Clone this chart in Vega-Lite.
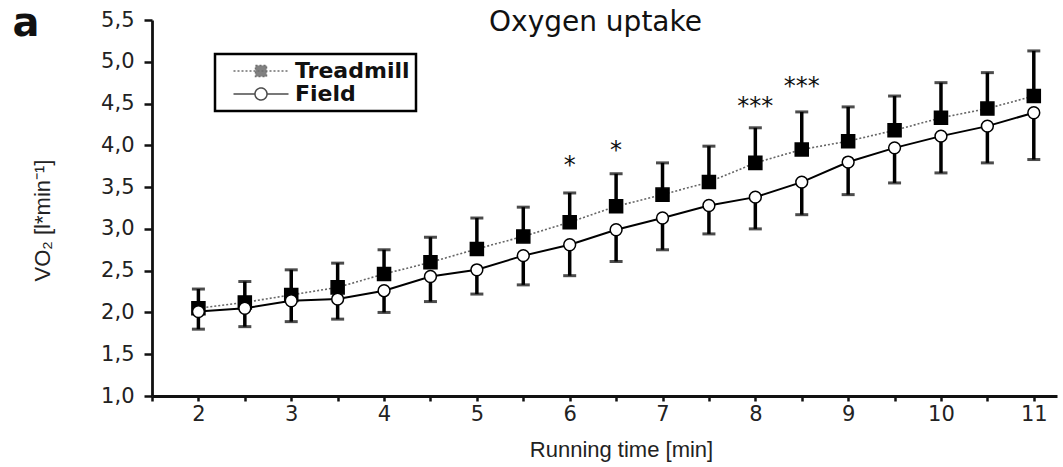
{
  "$schema": "https://vega.github.io/schema/vega-lite/v6.json",
  "width": 905,
  "height": 376,
  "autosize": {"type": "none"},
  "padding": {"left": 152, "top": 20, "right": 6, "bottom": 71},
  "background": "white",
  "config": {
    "view": {"stroke": null},
    "axis": {"grid": false, "domainColor": "#111", "tickColor": "#111", "labelColor": "#222", "titleColor": "#222"},
    "legend": {"symbolSize": 100, "strokeWidth": 2.5}
  },
  "datasets": {
    "vo2": [
      {"t": 2, "series": "Treadmill", "mean": 2.05, "bar": 2.28},
      {"t": 2.5, "series": "Treadmill", "mean": 2.12, "bar": 2.37},
      {"t": 3, "series": "Treadmill", "mean": 2.21, "bar": 2.51},
      {"t": 3.5, "series": "Treadmill", "mean": 2.30, "bar": 2.59},
      {"t": 4, "series": "Treadmill", "mean": 2.46, "bar": 2.75},
      {"t": 4.5, "series": "Treadmill", "mean": 2.60, "bar": 2.90},
      {"t": 5, "series": "Treadmill", "mean": 2.76, "bar": 3.13},
      {"t": 5.5, "series": "Treadmill", "mean": 2.91, "bar": 3.26},
      {"t": 6, "series": "Treadmill", "mean": 3.08, "bar": 3.43},
      {"t": 6.5, "series": "Treadmill", "mean": 3.27, "bar": 3.66},
      {"t": 7, "series": "Treadmill", "mean": 3.41, "bar": 3.79},
      {"t": 7.5, "series": "Treadmill", "mean": 3.56, "bar": 3.99},
      {"t": 8, "series": "Treadmill", "mean": 3.79, "bar": 4.21},
      {"t": 8.5, "series": "Treadmill", "mean": 3.95, "bar": 4.40},
      {"t": 9, "series": "Treadmill", "mean": 4.05, "bar": 4.46},
      {"t": 9.5, "series": "Treadmill", "mean": 4.18, "bar": 4.59},
      {"t": 10, "series": "Treadmill", "mean": 4.33, "bar": 4.75},
      {"t": 10.5, "series": "Treadmill", "mean": 4.44, "bar": 4.87},
      {"t": 11, "series": "Treadmill", "mean": 4.59, "bar": 5.13},
      {"t": 2, "series": "Field", "mean": 2.01, "bar": 1.80},
      {"t": 2.5, "series": "Field", "mean": 2.05, "bar": 1.83},
      {"t": 3, "series": "Field", "mean": 2.14, "bar": 1.89},
      {"t": 3.5, "series": "Field", "mean": 2.16, "bar": 1.92},
      {"t": 4, "series": "Field", "mean": 2.26, "bar": 2.00},
      {"t": 4.5, "series": "Field", "mean": 2.43, "bar": 2.13},
      {"t": 5, "series": "Field", "mean": 2.51, "bar": 2.22},
      {"t": 5.5, "series": "Field", "mean": 2.68, "bar": 2.33},
      {"t": 6, "series": "Field", "mean": 2.81, "bar": 2.44},
      {"t": 6.5, "series": "Field", "mean": 2.99, "bar": 2.61},
      {"t": 7, "series": "Field", "mean": 3.13, "bar": 2.75},
      {"t": 7.5, "series": "Field", "mean": 3.28, "bar": 2.94},
      {"t": 8, "series": "Field", "mean": 3.38, "bar": 3.00},
      {"t": 8.5, "series": "Field", "mean": 3.56, "bar": 3.17},
      {"t": 9, "series": "Field", "mean": 3.80, "bar": 3.41},
      {"t": 9.5, "series": "Field", "mean": 3.97, "bar": 3.55},
      {"t": 10, "series": "Field", "mean": 4.11, "bar": 3.67},
      {"t": 10.5, "series": "Field", "mean": 4.23, "bar": 3.79},
      {"t": 11, "series": "Field", "mean": 4.39, "bar": 3.83}
    ],
    "stars": [
      {"t": 6, "y": 3.81, "label": "*"},
      {"t": 6.5, "y": 3.99, "label": "*"},
      {"t": 8, "y": 4.52, "label": "***"},
      {"t": 8.5, "y": 4.76, "label": "***"}
    ]
  },
  "resolve": {"axis": {"x": "independent", "y": "independent"}},
  "layer": [
    {
      "data": {"name": "vo2"},
      "mark": {"type": "point", "filled": true, "size": 0, "strokeWidth": 1.6},
      "encoding": {
        "x": {"field": "t", "type": "quantitative", "scale": {"domain": [1.5, 11.25], "nice": false, "zero": false}, "axis": null},
        "y": {"field": "mean", "type": "quantitative", "scale": {"domain": [1, 5.5], "nice": false, "zero": false}, "axis": null},
        "shape": {"field": "series", "type": "nominal",
          "scale": {"domain": ["Treadmill", "Field"], "range": ["M-5.5,0H5.5M-1.1,-1.1H1.1V1.1H-1.1Z", "M-5.5,0H-1.2M1.2,0H5.5M1.2,0A1.2,1.2 0 1 1 -1.2,0A1.2,1.2 0 1 1 1.2,0Z"]},
          "legend": {"orient": "none", "legendX": 63, "legendY": 34, "title": null, "padding": 6,
            "strokeColor": "black", "fillColor": "white", "labelFont": "DejaVu Sans", "labelFontSize": 22, "labelFontWeight": "bold",
            "labelColor": "#111", "symbolOffset": 29, "labelOffset": 23, "rowPadding": 1}},
        "fill": {"field": "series", "type": "nominal", "scale": {"domain": ["Treadmill", "Field"], "range": ["black", "white"]}},
        "stroke": {"field": "series", "type": "nominal", "scale": {"domain": ["Treadmill", "Field"], "range": ["#333", "black"]}},
        "strokeDash": {"field": "series", "type": "nominal", "scale": {"domain": ["Treadmill", "Field"], "range": [[2, 2], [1, 0]]}}
      }
    },
    {
      "data": {"name": "vo2"},
      "transform": [{"filter": "datum.series === 'Treadmill'"}],
      "mark": {"type": "line", "color": "#666", "strokeWidth": 1.6, "strokeDash": [2, 2]},
      "encoding": {
        "x": {"field": "t", "type": "quantitative", "scale": {"domain": [1.5, 11.25], "nice": false, "zero": false},
          "axis": {"orient": "bottom", "values": [1.5, 2, 2.5, 3, 3.5, 4, 4.5, 5, 5.5, 6, 6.5, 7, 7.5, 8, 8.5, 9, 9.5, 10, 10.5, 11],
            "labelExpr": "datum.value % 1 === 0 ? format(datum.value, 'd') : ''", "labelFont": "DejaVu Sans", "labelFontSize": 21,
            "labelPadding": 2, "tickSize": 5, "tickWidth": 2.5, "domainWidth": 2.8, "labelFlush": false, "labelOverlap": false,
            "title": "Running time [min]", "titleFont": "Liberation Sans", "titleFontSize": 22, "titleFontWeight": "normal",
            "titleX": 469, "titleY": 53, "titleBaseline": "middle", "titleAlign": "center"}},
        "y": {"field": "mean", "type": "quantitative", "scale": {"domain": [1, 5.5], "nice": false, "zero": false},
          "axis": {"orient": "left", "values": [1, 1.5, 2, 2.5, 3, 3.5, 4, 4.5, 5, 5.5],
            "labelExpr": "replace(format(datum.value, '.1f'), '.', ',')", "labelFont": "DejaVu Sans", "labelFontSize": 21,
            "labelPadding": 10, "tickSize": 8, "tickWidth": 2.5, "domainWidth": 2.8, "labelFlush": false, "labelOverlap": false,
            "title": "VO₂ [l*min⁻¹]", "titleFont": "Liberation Sans", "titleFontSize": 22, "titleFontWeight": "normal",
            "titleX": -110, "titleY": 200, "titleAngle": 270, "titleAlign": "center", "titleBaseline": "middle"}}
      }
    },
    {
      "data": {"name": "vo2"},
      "transform": [{"filter": "datum.series === 'Field'"}],
      "mark": {"type": "line", "color": "black", "strokeWidth": 2},
      "encoding": {
        "x": {"field": "t", "type": "quantitative", "scale": {"domain": [1.5, 11.25], "nice": false, "zero": false}, "axis": null},
        "y": {"field": "mean", "type": "quantitative", "scale": {"domain": [1, 5.5], "nice": false, "zero": false}, "axis": null}
      }
    },
    {
      "data": {"name": "vo2"},
      "mark": {"type": "rule", "color": "black", "strokeWidth": 3.5},
      "encoding": {
        "x": {"field": "t", "type": "quantitative", "scale": {"domain": [1.5, 11.25], "nice": false, "zero": false}, "axis": null},
        "y": {"field": "mean", "type": "quantitative", "scale": {"domain": [1, 5.5], "nice": false, "zero": false}, "axis": null},
        "y2": {"field": "bar"}
      }
    },
    {
      "data": {"name": "vo2"},
      "mark": {"type": "tick", "orient": "horizontal", "color": "black", "thickness": 3, "size": 13},
      "encoding": {
        "x": {"field": "t", "type": "quantitative", "scale": {"domain": [1.5, 11.25], "nice": false, "zero": false}, "axis": null},
        "y": {"field": "bar", "type": "quantitative", "scale": {"domain": [1, 5.5], "nice": false, "zero": false}, "axis": null}
      }
    },
    {
      "data": {"name": "vo2"},
      "transform": [{"filter": "datum.series === 'Treadmill'"}],
      "mark": {"type": "point", "shape": "square", "filled": true, "fill": "black", "stroke": "black", "strokeWidth": 1.5, "size": 170, "opacity": 1},
      "encoding": {
        "x": {"field": "t", "type": "quantitative", "scale": {"domain": [1.5, 11.25], "nice": false, "zero": false}, "axis": null},
        "y": {"field": "mean", "type": "quantitative", "scale": {"domain": [1, 5.5], "nice": false, "zero": false}, "axis": null}
      }
    },
    {
      "data": {"name": "vo2"},
      "transform": [{"filter": "datum.series === 'Field'"}],
      "mark": {"type": "point", "shape": "circle", "filled": true, "fill": "white", "stroke": "black", "strokeWidth": 1.5, "size": 140, "opacity": 1},
      "encoding": {
        "x": {"field": "t", "type": "quantitative", "scale": {"domain": [1.5, 11.25], "nice": false, "zero": false}, "axis": null},
        "y": {"field": "mean", "type": "quantitative", "scale": {"domain": [1, 5.5], "nice": false, "zero": false}, "axis": null}
      }
    },
    {
      "data": {"name": "stars"},
      "mark": {"type": "text", "font": "DejaVu Sans", "fontSize": 24, "color": "#111", "baseline": "middle", "dy": 5},
      "encoding": {
        "x": {"field": "t", "type": "quantitative", "scale": {"domain": [1.5, 11.25], "nice": false, "zero": false},
          "axis": {"orient": "top", "domain": false, "ticks": false, "labels": false, "title": "Oxygen uptake",
            "titleFont": "DejaVu Sans", "titleFontSize": 28, "titleFontWeight": "normal", "titleColor": "#111",
            "titleX": 443, "titleY": 2, "titleAlign": "center", "titleBaseline": "middle"}},
        "y": {"field": "y", "type": "quantitative", "scale": {"domain": [1, 5.5], "nice": false, "zero": false},
          "axis": {"orient": "right", "domain": false, "ticks": false, "labels": false, "title": "a",
            "titleFont": "DejaVu Sans", "titleFontSize": 40, "titleFontWeight": "bold", "titleColor": "#111",
            "titleAngle": 0, "titleX": -1045, "titleY": 15, "titleAlign": "left", "titleBaseline": "alphabetic"}},
        "text": {"field": "label"}
      }
    }
  ]
}
